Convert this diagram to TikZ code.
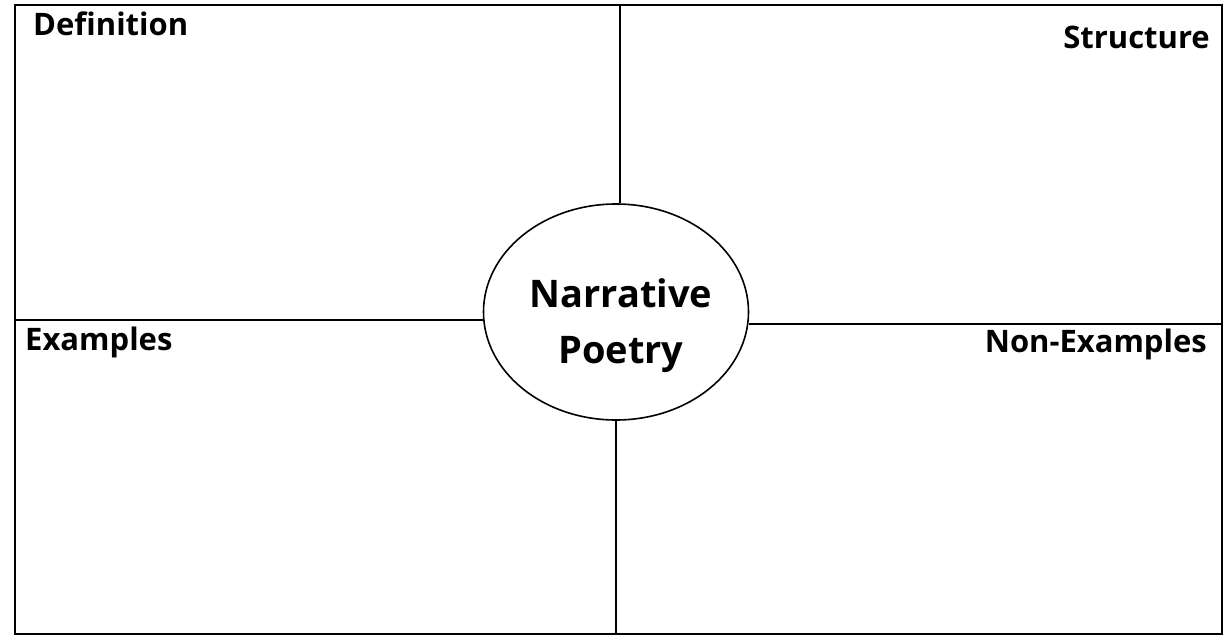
\documentclass[tikz,border=0pt]{standalone}
\usepackage{fontspec}
\setmainfont{Open Sans}
\usetikzlibrary{shapes.geometric,positioning}

\begin{document}
\begin{tikzpicture}[x=1pt,y=-1pt,
 heading/.style={font=\fontsize{31}{36}\selectfont\bfseries,inner sep=0pt},
 divider/.style={line width=1.6pt}]
\useasboundingbox (0,0) rectangle (1224,638);
\fill[white] (0,0) rectangle (1224,638);
\draw[line width=2.2pt] (15,5) rectangle (1222,634);
\node[draw,ellipse,line width=1.6pt,minimum width=265pt,minimum height=216pt,inner sep=0pt] (topic) at (616,312) {};
\node[font=\fontsize{38}{56}\selectfont\bfseries,align=center,inner sep=0pt] (topicname) at (621,326) {Narrative\\ Poetry};
\node[heading,anchor=north west] (definition) at (33,12) {Definition};
\node[heading,anchor=north east] (structure) at (1210,26) {Structure};
\node[heading,anchor=north west] (examples) at (25,327) {Examples};
\node[heading,anchor=north east] (nonexamples) at (1207,329) {Non-Examples};
\coordinate (uptop) at (620,5);
\coordinate (downbot) at (616,634);
\coordinate (leftend) at (15,320);
\coordinate (rightend) at (1222,324);
\draw[divider] (uptop) -- (uptop |- topic.north);
\draw[divider] (downbot) -- (downbot |- topic.south);
\draw[divider] (leftend) -- (leftend -| topic.west);
\draw[divider] (rightend) -- (rightend -| topic.east);
\end{tikzpicture}
\end{document}
